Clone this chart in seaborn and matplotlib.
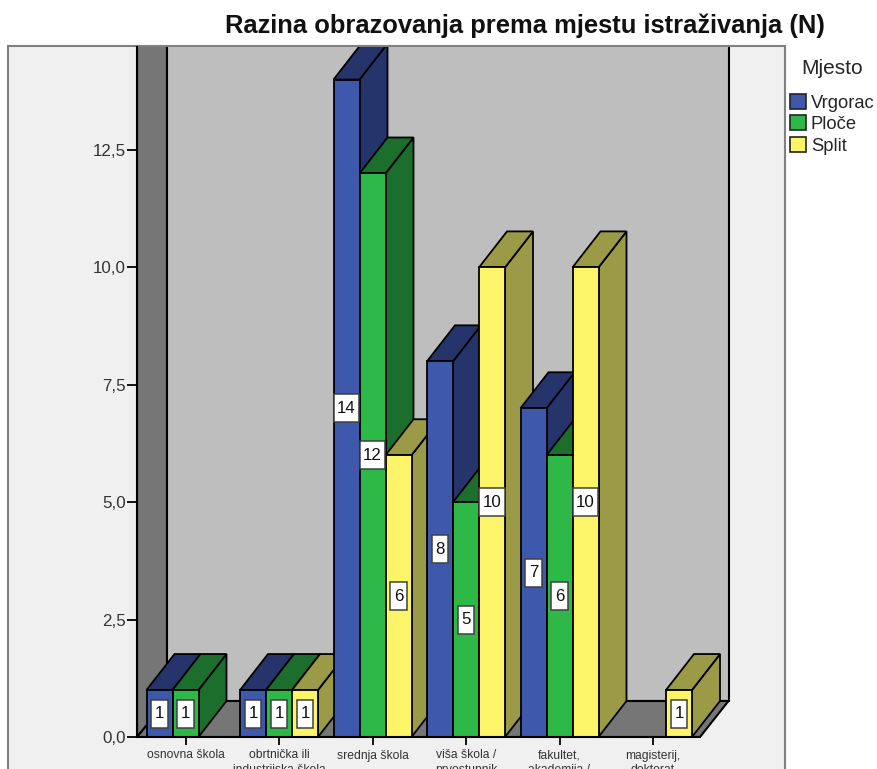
#!/usr/bin/env python
# Grouped bars with the old SPSS-style fake 3D look
import pandas as pd
import numpy as np
import matplotlib
matplotlib.use("Agg")
import matplotlib.pyplot as plt
from matplotlib.patches import Polygon, Rectangle
from matplotlib.path import Path
import seaborn as sns

categories = ["osnovna škola", "obrtnička ili\nindustrijska škola", "srednja škola",
              "viša škola /\nprvostupnik", "fakultet,\nakademija /", "magisterij,\ndoktorat"]
places = ["Vrgorac", "Ploče", "Split"]
vrgorac = [1, 1, 14, 8, 7, np.nan]
ploce = [1, 1, 12, 5, 6, np.nan]
split = [np.nan, 1, 6, 10, 10, 1]
y_ticks = [0, 2.5, 5, 7.5, 10, 12.5]
y_tick_labels = ["0,0", "2,5", "5,0", "7,5", "10,0", "12,5"]

front_colors = ["#3E58AC", "#2EB848", "#FDF569"]
dark_colors = ["#25346B", "#1B6E2C", "#9B9A47"]

W, H = 877, 769
sns.set_theme(style="white")
plt.rcParams["font.family"] = ["Liberation Sans", "DejaVu Sans"]


def tall_box(x0, y0, width, height, mutation_size):
    # value labels have a fixed height, only the width follows the text
    pad_x, box_h = 3.5, 28
    mid = y0 + height / 2
    left, right = x0 - pad_x, x0 + width + pad_x
    bottom, top = mid - box_h / 2, mid + box_h / 2
    return Path([(left, bottom), (right, bottom), (right, top), (left, top), (left, bottom)], closed=True)


df = pd.DataFrame({"category": categories * 3,
                   "Mjesto": np.repeat(places, len(categories)),
                   "n": vrgorac + ploce + split}).dropna()
df["category"] = pd.Categorical(df["category"], categories=categories)

fig = plt.figure(figsize=(W / 100, H / 100), dpi=100, facecolor="white")
# light panel behind everything, runs off the bottom of the image
fig.add_artist(Rectangle((8 / W, -0.02), 777 / W, 0.02 + (H - 46) / H, transform=fig.transFigure,
                         facecolor="#F0F0F0", edgecolor="#808080", linewidth=1.5, zorder=-5))

ax = fig.add_axes([137 / W, (H - 737) / H, 595 / W, 690 / H])
ax.patch.set_visible(False)

x_unit, y_unit = 93.5, 46.96
x0_px = 185.5

sns.barplot(data=df, x="category", y="n", hue="Mjesto", hue_order=places, palette=front_colors,
            saturation=1, width=78 / x_unit, gap=0, dodge=True, edgecolor="black", linewidth=1.3,
            errorbar=None, ax=ax)

ax.set_xlim((137 - x0_px) / x_unit, (732 - x0_px) / x_unit)
ax.set_ylim(0, 690 / y_unit)
depth_x, depth_y = 28 / x_unit, 36 / y_unit
x_left, x_right = ax.get_xlim()
y_top = ax.get_ylim()[1] + 1
x_front_end = (700 - x0_px) / x_unit
x_wall = (167 - x0_px) / x_unit
x_wall_right = (728.5 - x0_px) / x_unit

# walls and floor
wall_style = dict(edgecolor="black", linewidth=1.5, zorder=1)
ax.add_patch(Polygon([(x_left, 0), (x_wall, depth_y), (x_wall, y_top), (x_left, y_top)],
                     facecolor="#767676", **wall_style))
ax.add_patch(Polygon([(x_wall, depth_y), (x_wall_right, depth_y), (x_wall_right, y_top), (x_wall, y_top)],
                     facecolor="#BEBEBE", **wall_style))
ax.add_patch(Polygon([(x_left, 0), (x_front_end, 0), (x_wall_right, depth_y), (x_wall, depth_y)],
                     facecolor="#767676", **wall_style))

# depth faces, painted left to right so each front hides the neighbour's side
bars = []
for color_i, container in enumerate(ax.containers):
    ax.bar_label(container, fmt="%d", label_type="center", fontsize=12.2, color="#111111", zorder=20,
                 bbox=dict(boxstyle=tall_box, facecolor="white", edgecolor="#404040", linewidth=1.1))
    for bar in container:
        bars.append((bar, color_i))
bars.sort(key=lambda b: b[0].get_x())

for i, (bar, color_i) in enumerate(bars):
    x0, x1, h = bar.get_x(), bar.get_x() + bar.get_width(), bar.get_height()
    z = 3 + i * 0.1
    style = dict(facecolor=dark_colors[color_i], edgecolor="black", linewidth=1.3, zorder=z)
    ax.add_patch(Polygon([(x1, 0), (x1 + depth_x, depth_y), (x1 + depth_x, h + depth_y), (x1, h)], **style))
    ax.add_patch(Polygon([(x0, h), (x1, h), (x1 + depth_x, h + depth_y), (x0 + depth_x, h + depth_y)], **style))
    bar.set_zorder(z + 0.05)

ax.set_yticks(y_ticks, y_tick_labels)
ax.set_xlabel("")
ax.set_ylabel("")
ax.tick_params(axis="y", left=True, length=7, width=1.3, color="black", labelsize=12.2, labelcolor="#333333", pad=1)
ax.tick_params(axis="x", bottom=True, length=5.5, width=1.3, color="black", labelsize=8.75, labelcolor="#333333", pad=3.5)
for label in ax.get_xticklabels():
    label.set_linespacing(1.25)

for side in ["top", "right"]:
    ax.spines[side].set_visible(False)
for side in ["left", "bottom"]:
    ax.spines[side].set_visible(True)
    ax.spines[side].set_color("black")
    ax.spines[side].set_linewidth(1.5)
    ax.spines[side].set_zorder(15)
ax.spines["bottom"].set_bounds(x_left, x_front_end)

sns.move_legend(ax, loc="upper left", bbox_to_anchor=(790 / W, (H - 59) / H), bbox_transform=fig.transFigure,
                frameon=False, title="Mjesto", fontsize=13.2, title_fontsize=15, handlelength=0.87, handleheight=0.87,
                labelspacing=0.2, handletextpad=0.27, borderaxespad=0, borderpad=0)
leg = ax.get_legend()
leg._legend_box.sep = 11.5
for patch in leg.get_patches():
    patch.set_edgecolor("#222222")
    patch.set_linewidth(1.2)

fig.text(525 / W, (H - 26) / H, "Razina obrazovanja prema mjestu istraživanja (N)", ha="center", va="center",
         fontsize=18.4, fontweight="bold", color="#111111")

fig.savefig("out.png", dpi=100)
